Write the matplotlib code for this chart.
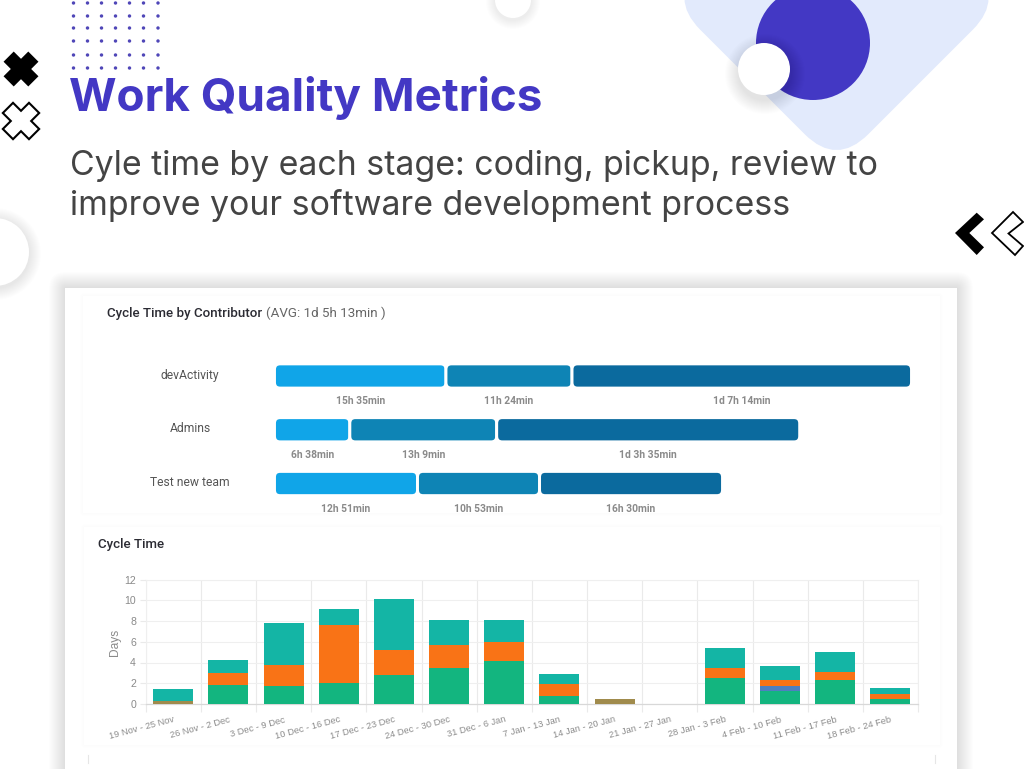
import matplotlib
matplotlib.use("Agg")
import matplotlib.pyplot as plt
from matplotlib.patches import FancyBboxPatch, Circle, Polygon, Rectangle
from matplotlib.transforms import Affine2D
import numpy as np

# ---------- data ----------
week_labels = ["19 Nov - 25 Nov", "26 Nov - 2 Dec", "3 Dec - 9 Dec", "10 Dec - 16 Dec",
               "17 Dec - 23 Dec", "24 Dec - 30 Dec", "31 Dec - 6 Jan", "7 Jan - 13 Jan",
               "14 Jan - 20 Jan", "21 Jan - 27 Jan", "28 Jan - 3 Feb", "4 Feb - 10 Feb",
               "11 Feb - 17 Feb", "18 Feb - 24 Feb"]
coding_days = [0.0, 1.85, 1.75, 2.0, 2.75, 3.5, 4.15, 0.8, 0.0, 0.0, 2.5, 1.3, 2.3, 0.45]
overlap_days = [0.25, 0, 0, 0, 0, 0, 0, 0, 0.45, 0, 0, 0, 0, 0]
idle_days = [0, 0, 0, 0, 0, 0, 0, 0, 0, 0, 0, 0.45, 0, 0]
pickup_days = [0.0, 1.1, 2.0, 5.6, 2.45, 2.15, 1.8, 1.15, 0.0, 0.0, 1.0, 0.6, 0.8, 0.55]
review_days = [1.15, 1.25, 4.05, 1.6, 4.9, 2.4, 2.1, 0.95, 0.0, 0.0, 1.9, 1.3, 1.95, 0.55]
y_ticks = [0, 2, 4, 6, 8, 10, 12]

contributors = ["devActivity", "Admins", "Test new team"]
# bar lengths (minutes, approx.)
stage1_min = [940, 413, 784]
stage2_min = [691, 805, 669]
stage3_min = [1861, 1661, 1003]
stage1_lbl = ["15h 35min", "6h 38min", "12h 51min"]
stage2_lbl = ["11h 24min", "13h 9min", "10h 53min"]
stage3_lbl = ["1d 7h 14min", "1d 3h 35min", "16h 30min"]

title = "Work Quality Metrics"
subtitle = ["Cyle time by each stage: coding, pickup, review to",
            "improve your software development process"]

# ---------- colours ----------
PURPLE = "#4338C4"
C_GREEN, C_MIX, C_BLUE, C_ORANGE, C_TEAL = "#13B57F", "#A08B4C", "#4F7FC0", "#F97316", "#14B5A5"
H_COLS = ["#10A5E8", "#0E84B5", "#0B6A9E"]

W, H = 1024, 769
fig = plt.figure(figsize=(W / 100, H / 100), dpi=100, facecolor="white")
bg = fig.add_axes([0, 0, 1, 1], zorder=0)
bg.set_xlim(0, W)
bg.set_ylim(H, 0)
bg.axis("off")


def px_axes(x0, y0, x1, y1, z=2):
    a = fig.add_axes([x0 / W, 1 - y1 / H, (x1 - x0) / W, (y1 - y0) / H], zorder=z)
    a.patch.set_alpha(0)
    return a


def rect_shadow(x0, y0, x1, y1, spread, alpha, z):
    for i in range(spread, 0, -1):
        bg.add_patch(FancyBboxPatch((x0 - i, y0 - i), x1 - x0 + 2 * i, y1 - y0 + 2 * i,
                                    boxstyle="round,pad=0,rounding_size=%d" % (i + 1),
                                    fc="black", ec="none", alpha=alpha, zorder=z))


def circle_shadow(cx, cy, r, spread, alpha, z, dx=0, dy=0):
    for i in range(spread, 0, -1):
        bg.add_patch(Circle((cx + dx, cy + dy), r + i, fc="black", ec="none", alpha=alpha, zorder=z))


# ---------- decoration ----------
bg.add_patch(FancyBboxPatch((-118.8, -118.8), 237.6, 237.6,
                            boxstyle="round,pad=0,rounding_size=45", fc="#E2EAFC", ec="none", zorder=1,
                            transform=Affine2D().rotate_deg(45).translate(836.5, -2) + bg.transData))
bg.add_patch(Circle((813, 43), 57, fc=PURPLE, ec="none", zorder=2))
circle_shadow(764, 69, 26, 14, 0.007, 3, dx=1, dy=5)
bg.add_patch(Circle((764, 69), 26, fc="white", ec="none", zorder=4))

circle_shadow(513, 0, 18, 9, 0.008, 3, dy=2)
bg.add_patch(Circle((513, 0), 18, fc="white", ec="none", zorder=4))
circle_shadow(-5, 252, 34, 12, 0.009, 3, dy=2)
bg.add_patch(Circle((-5, 252), 34, fc="white", ec="none", zorder=4))

dot_x = [73.5, 87.5, 101.5, 115.5, 129.5, 143.5, 158]
dot_y = [3, 16, 28, 41, 55, 68]
for dy_ in dot_y:
    for dx_ in dot_x:
        bg.add_patch(Circle((dx_, dy_), 1.7, fc="#4F46B8", ec="none", zorder=2))


def x_shape(cx, cy, L, w):
    pts = [(w, w), (L, w), (L, -w), (w, -w), (w, -L), (-w, -L), (-w, -w), (-L, -w), (-L, w), (-w, w), (-w, L), (w, L)]
    c = np.cos(np.pi / 4)
    return [(cx + (p - q) * c, cy + (p + q) * c) for p, q in pts]


bg.add_patch(Polygon(x_shape(21, 69, 17.5, 7.2), fc="black", ec="none", zorder=2))
bg.add_patch(Polygon(x_shape(21, 121, 18.5, 7.2), fc="white", ec="black", lw=1.5, zorder=2))
bg.add_patch(Polygon([(955, 233), (976.7, 212.7), (984, 219.3), (969.3, 233), (984, 247.3), (976.7, 255)],
                     fc="black", ec="none", zorder=2))
bg.add_patch(Polygon([(992, 233), (1013, 212), (1023, 222), (1008.5, 233.5), (1023, 246), (1015, 255)],
                     fc="white", ec="black", lw=1.3, zorder=2))

# ---------- headings ----------
bg.text(69, 98.5, title, family="Inter", weight="bold", fontsize=33, color=PURPLE, va="center", ha="left", zorder=5)
bg.text(70, 166.5, subtitle[0], family="Inter", fontsize=24.4, color="#444444", va="center", ha="left", zorder=5)
bg.text(70, 205.5, subtitle[1], family="Inter", fontsize=24.4, color="#444444", va="center", ha="left", zorder=5)

# ---------- cards ----------
rect_shadow(65, 288, 957, 800, 16, 0.009, 5)
bg.add_patch(Rectangle((65, 288), 892, 500, fc="white", ec="none", zorder=6))
rect_shadow(83, 296, 940, 513, 3, 0.003, 7)
bg.add_patch(Rectangle((83, 296), 857, 217, fc="white", ec="none", zorder=8))
rect_shadow(84, 527, 940, 745, 3, 0.002, 7)
bg.add_patch(Rectangle((84, 527), 856, 218, fc="white", ec="none", zorder=8))
bg.plot([88, 88], [755, 763], color="#E6E6E6", lw=0.8, zorder=9)
bg.plot([935, 935], [755, 763], color="#E6E6E6", lw=0.8, zorder=9)

# card 1 texts
bg.text(107, 313.5, "Cycle Time by Contributor", family="Roboto", weight="medium", fontsize=9.6,
        color="#2B2B33", va="center", zorder=9)
bg.text(266, 313.5, "(AVG: 1d 5h 13min )", family="Roboto", fontsize=9.6, color="#666666", va="center", zorder=9)
bg.text(98, 544.5, "Cycle Time", family="Roboto", weight="medium", fontsize=9.6, color="#2B2B33",
        va="center", zorder=9)

# ---------- contributor bars ----------
axh = px_axes(274.5, 349.1, 911.5, 510.4, z=10)
axh.set_xlim(0, sum([stage1_min[0], stage2_min[0], stage3_min[0]]))
axh.set_ylim(2.5, -0.5)
axh.axis("off")
x_per_px = axh.get_xlim()[1] / 637.0
y_per_px = 3 / 161.3
stage_min = [stage1_min, stage2_min, stage3_min]
stage_lbl = [stage1_lbl, stage2_lbl, stage3_lbl]
for row, name in enumerate(contributors):
    left = 0
    for s in range(3):
        v = stage_min[s][row]
        axh.add_patch(FancyBboxPatch((left, row - 0.225), v, 0.45,
                                     boxstyle="round,pad=0,rounding_size=%.1f" % (5.5 * x_per_px),
                                     mutation_aspect=y_per_px / x_per_px,
                                     fc=H_COLS[s], ec="white", lw=2.1))
        axh.text(left + v / 2, row + 0.47, stage_lbl[s][row], family="Roboto", weight="bold", fontsize=7.4,
                 color="#8A8A8A", ha="center", va="center")
        left += v
    bg.text(190, 375 + row * 53.6, name, family="Roboto", fontsize=8.7, color="#555555",
            ha="center", va="center", zorder=9)

# ---------- stacked weekly bars ----------
ax = px_axes(145.7, 579.5, 918, 704, z=10)
x = np.arange(len(week_labels))
bottom = np.zeros(len(x))
for vals, col in [(coding_days, C_GREEN), (overlap_days, C_MIX), (idle_days, C_BLUE),
                  (pickup_days, C_ORANGE), (review_days, C_TEAL)]:
    ax.bar(x, vals, width=0.725, bottom=bottom, color=col, lw=0, zorder=3)
    bottom += np.array(vals)
ax.set_xlim(-0.5, len(x) - 0.5)
ax.set_ylim(0, 12)
ax.set_yticks(y_ticks)
ax.set_xticks(x)
ax.set_xticklabels(week_labels, rotation=15, ha="right", rotation_mode="anchor",
                   family="Liberation Sans", fontsize=6.7, color="#8C8C8C")
ax.set_xticks(np.arange(-0.5, len(x)), minor=True)
ax.tick_params(axis="x", which="major", length=0, pad=8)
ax.tick_params(axis="x", which="minor", length=6, color="#EAEAEA", width=0.8)
ax.tick_params(axis="y", length=4, color="#EAEAEA", width=0.8, pad=3, labelsize=7.6, labelcolor="#8A8A8A")
for lab in ax.get_yticklabels():
    lab.set_family("Liberation Sans")
ax.grid(True, axis="y", color="#EFEFEF", lw=0.8, zorder=0)
ax.grid(True, axis="x", which="minor", color="#EAEAEA", lw=0.8, zorder=0)
ax.grid(False, axis="x", which="major")
for sp in ["top", "right", "left"]:
    ax.spines[sp].set_color("#EFEFEF")
    ax.spines[sp].set_linewidth(0.8)
ax.spines["bottom"].set_color("#D8D8D8")
ax.spines["bottom"].set_linewidth(0.9)
ax.set_axisbelow(True)
bg.text(114.5, 642, "Days", family="Liberation Sans", fontsize=8.6, color="#8A8A8A", rotation=90,
        ha="center", va="center", zorder=9)

fig.savefig("out.png", dpi=100, facecolor="white")
